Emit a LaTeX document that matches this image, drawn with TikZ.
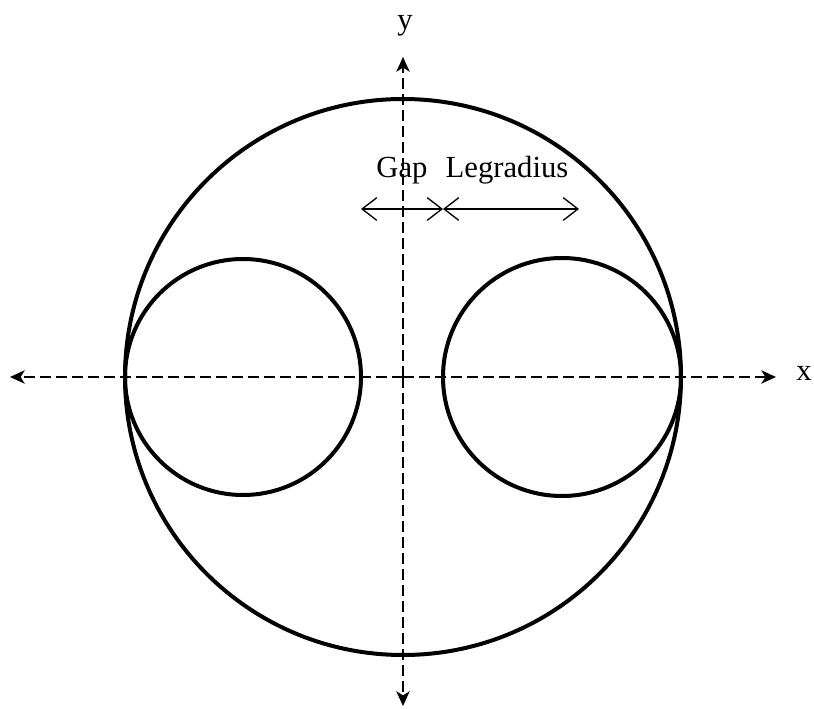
\documentclass[tikz,border=0pt]{standalone}
\usepackage{fontspec}
\setmainfont{Liberation Serif}
\usetikzlibrary{arrows.meta}
\tikzset{
  circ/.style={line width=3pt},
  axis/.style={line width=1.2pt, dash pattern=on 8pt off 4pt, -{Stealth[length=11pt,width=10pt,inset=3pt]}},
  dim/.style={line width=1pt, {Straight Barb[length=11pt,width=17pt]}-{Straight Barb[length=11pt,width=17pt]}},
  lbl/.style={font=\fontsize{23}{27}\selectfont, inner sep=0pt}
}
\begin{document}
\begin{tikzpicture}[x=0.75pt,y=-0.75pt]
\useasboundingbox (0,0) rectangle (814,709);
\coordinate (O) at (403,377);
\coordinate (xl) at (10,377);
\coordinate (xr) at (776,377);
\coordinate (yt) at (403,57);
\coordinate (yb) at (403,706);
\draw[axis] (O) -- (xr);
\draw[axis] (O) -- (xl);
\draw[axis] (O) -- (yt);
\draw[axis] (O) -- (yb);
\draw[circ] (O) circle[radius=278];
\draw[circ] (243,377) circle[radius=118];
\draw[circ] (562,377) circle[radius=119];
\coordinate (g1) at (361,209);
\coordinate (g2) at (443,209);
\coordinate (g3) at (579,209);
\draw[dim] (g1) -- (g2);
\draw[dim] (g2) -- (g3);
\node[lbl, anchor=base] (gap) at (402,178) {Gap};
\node[lbl, anchor=base] (leg) at (507,178) {Legradius};
\node[lbl, anchor=base west] (xlab) at (796,380) {x};
\node[lbl, anchor=base] (ylab) at (405,30) {y};
\end{tikzpicture}
\end{document}
